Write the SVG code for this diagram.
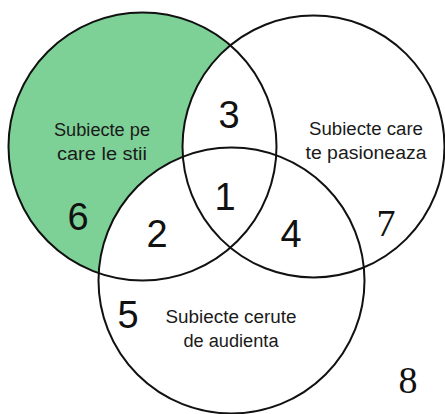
<svg xmlns="http://www.w3.org/2000/svg" width="445" height="414" viewBox="0 0 445 414">
<style>
.ring{fill:none;stroke:#111;stroke-width:2}
.blank{fill:#fff;stroke:none}
.lbl{font-family:"Liberation Sans",Arial,sans-serif;font-size:18px;fill:#1a1a1a;text-anchor:middle}
.num{font-family:"Liberation Sans",Arial,sans-serif;font-size:38px;fill:#111;text-anchor:middle}
.nums{font-family:"Liberation Serif","Times New Roman",serif;font-size:38px;fill:#111;text-anchor:middle}
</style>
<rect width="445" height="414" fill="#fff"/>
<g id="fills">
<circle cx="142.5" cy="146.5" r="134" fill="#7dd196"/>
<circle class="blank" cx="313.5" cy="146.5" r="131"/>
<circle class="blank" cx="231.5" cy="280.5" r="133"/>
</g>
<g id="circle-known">
<circle class="ring" cx="142.5" cy="146.5" r="134"/>
<text class="lbl" x="102" y="136" textLength="96" lengthAdjust="spacingAndGlyphs">Subiecte pe</text>
<text class="lbl" x="102" y="160" textLength="90" lengthAdjust="spacingAndGlyphs">care le stii</text>
</g>
<g id="circle-passion">
<circle class="ring" cx="313.5" cy="146.5" r="131"/>
<text class="lbl" x="366" y="135" textLength="114" lengthAdjust="spacingAndGlyphs">Subiecte care</text>
<text class="lbl" x="366" y="159" textLength="121" lengthAdjust="spacingAndGlyphs">te pasioneaza</text>
</g>
<g id="circle-audience">
<circle class="ring" cx="231.5" cy="280.5" r="133"/>
<text class="lbl" x="231" y="323" textLength="131" lengthAdjust="spacingAndGlyphs">Subiecte cerute</text>
<text class="lbl" x="231" y="347" textLength="95" lengthAdjust="spacingAndGlyphs">de audienta</text>
</g>
<g id="numbers">
<text class="num" x="229" y="128">3</text>
<text class="num" x="225" y="210">1</text>
<text class="num" x="157" y="247">2</text>
<text class="num" x="291" y="247">4</text>
<text class="num" x="78" y="230">6</text>
<text class="nums" x="386" y="236">7</text>
<text class="num" x="128" y="328">5</text>
<text class="nums" x="408" y="393">8</text>
</g>
</svg>
